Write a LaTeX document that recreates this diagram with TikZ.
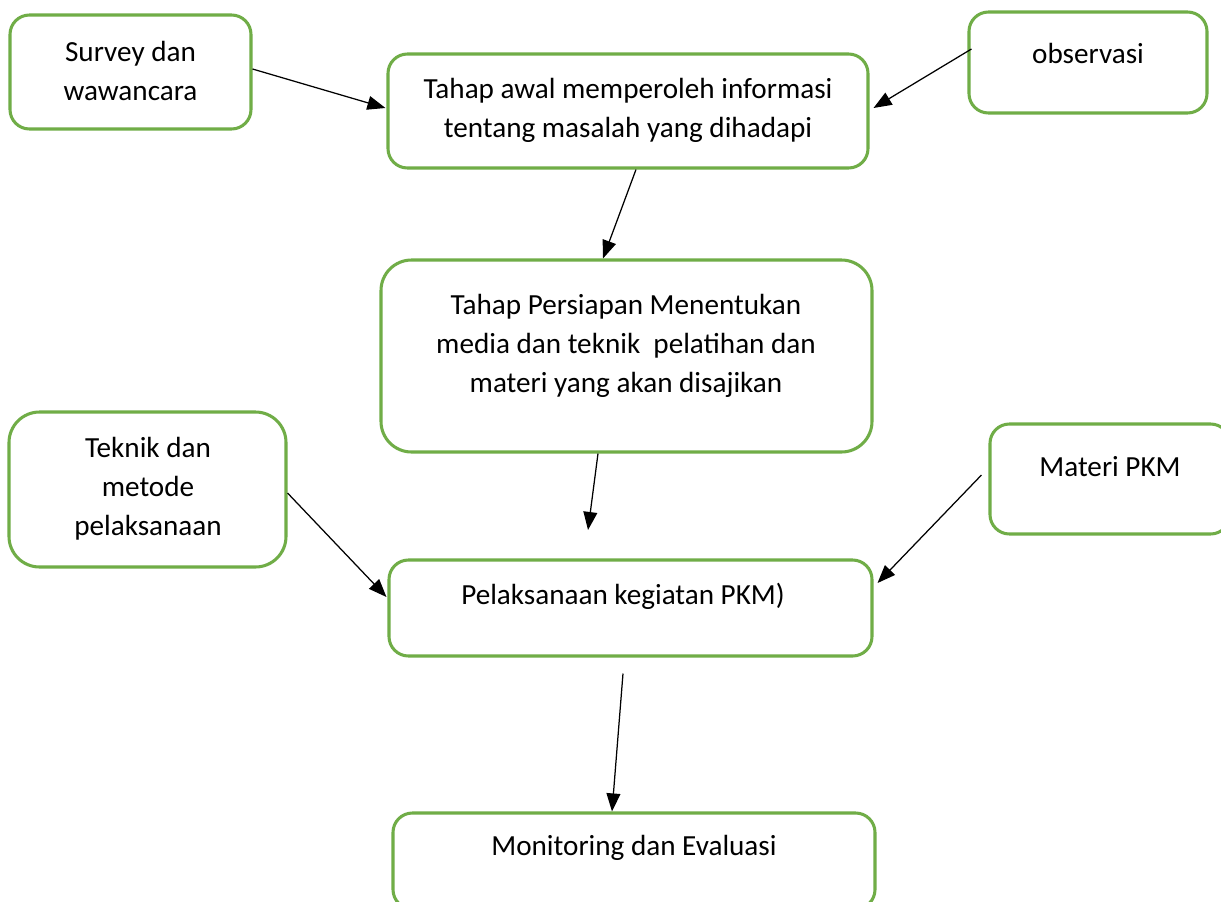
\documentclass[tikz,border=0pt]{standalone}
\usepackage{fontspec}
\setmainfont{Carlito}
\usetikzlibrary{arrows.meta,calc}
\definecolor{boxgreen}{RGB}{112,173,71}
\begin{document}
\begin{tikzpicture}[x=0.36pt,y=-0.36pt,
  box/.style={draw=boxgreen,line width=1.1pt,rounded corners=7pt,inner sep=0pt,fill=white},
  bigbox/.style={box,rounded corners=11pt},
  txt/.style={align=center,font=\fontsize{10.5}{14}\selectfont,inner sep=0pt},
  arr/.style={draw=black,line width=0.45pt,-{Triangle[length=6.5pt,width=5pt]}}]
\useasboundingbox (0,0) rectangle (1221,901);
\clip (0,0) rectangle (1221,901);
\fill[white] (0,0) rectangle (1221,901);
% boxes
\node[box,minimum width=241*0.36pt,minimum height=114*0.36pt] (b1) at (130.5,72) {};
\node[box,minimum width=480*0.36pt,minimum height=114*0.36pt] (b2) at (628,111) {};
\node[box,minimum width=238*0.36pt,minimum height=101*0.36pt] (b3) at (1088,62.5) {};
\node[bigbox,minimum width=491*0.36pt,minimum height=192*0.36pt] (b4) at (626.5,356) {};
\node[bigbox,minimum width=277*0.36pt,minimum height=155*0.36pt] (b5) at (147.5,489.5) {};
\node[box,minimum width=240*0.36pt,minimum height=110*0.36pt] (b6) at (1110,479) {};
\node[box,minimum width=483*0.36pt,minimum height=96*0.36pt] (b7) at (630.5,608) {};
\node[box,minimum width=482*0.36pt,minimum height=96*0.36pt] (b8) at (634,861) {};
% texts
\node[txt] (t1) at (130.5,71) {Survey dan\\wawancara};
\node[txt] (t2) at (628,110.5) {Tahap awal memperoleh informasi\\tentang masalah yang dihadapi};
\node[txt] (t3) at (1088,53) {observasi};
\node[txt] (t4) at (626,346) {Tahap Persiapan Menentukan\\media dan teknik\ \ pelatihan dan\\materi yang akan disajikan};
\node[txt] (t5) at (148,489) {Teknik dan\\metode\\pelaksanaan};
\node[txt] (t6) at (1110,467) {Materi PKM};
\node[txt] (t7) at (623,596) {Pelaksanaan kegiatan PKM)};
\node[txt] (t8) at (634,848) {Monitoring dan Evaluasi};
% connectors
\coordinate (c1) at (588,530);
\draw[arr] ($(b1.east)+(0,-3)$) -- ($(b2.west)+(-1,-3)$);
\draw[arr] ($(b3.west)+(4,-13.5)$) -- ($(b2.east)+(4,-3)$);
\draw[arr] ($(b2.south)+(8,0)$) -- ($(b4.north)+(-23.5,0)$);
\draw[arr] ($(b4.south)+(-28.5,0)$) -- (c1);
\draw[arr] ($(b5.east)+(0,3.5)$) -- ($(b7.west)+(-1,-11)$);
\draw[arr] ($(b6.west)+(-7,-4)$) -- ($(b7.east)+(4,-25)$);
\draw[arr] ($(b7.south)+(-7.5,16)$) -- ($(b8.north)+(-22,0)$);
\end{tikzpicture}
\end{document}
